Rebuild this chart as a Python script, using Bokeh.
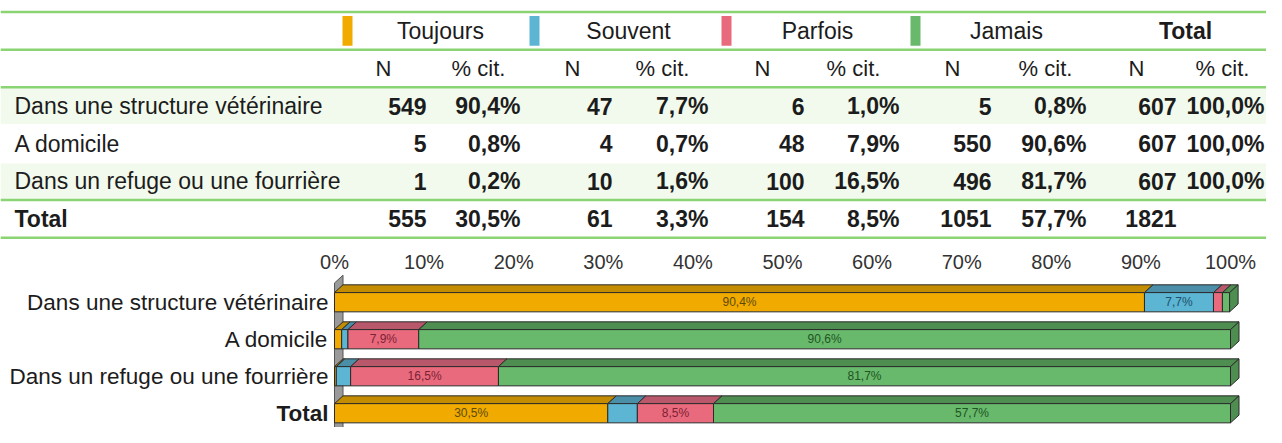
from bokeh.plotting import figure
from bokeh.layouts import column
from bokeh.models import Range1d, FixedTicker, LinearAxis
from bokeh.core.properties import value
from bokeh.embed import file_html
from bokeh.resources import INLINE

# ---------------- data ----------------
categories = ["Dans une structure vétérinaire", "A domicile",
              "Dans un refuge ou une fourrière", "Total"]
series = ["Toujours", "Souvent", "Parfois", "Jamais"]
n_toujours = [549, 5, 1, 555]
pct_toujours = [90.4, 0.8, 0.2, 30.5]
n_souvent = [47, 4, 10, 61]
pct_souvent = [7.7, 0.7, 1.6, 3.3]
n_parfois = [6, 48, 100, 154]
pct_parfois = [1.0, 7.9, 16.5, 8.5]
n_jamais = [5, 550, 496, 1051]
pct_jamais = [0.8, 90.6, 81.7, 57.7]
n_total = [607, 607, 607, 1821]
pct_total = [100.0, 100.0, 100.0, None]
tick_values = [0, 10, 20, 30, 40, 50, 60, 70, 80, 90, 100]
tick_labels = ["0%", "10%", "20%", "30%", "40%", "50%", "60%", "70%", "80%", "90%", "100%"]

# ---------------- style ----------------
FONT = "Liberation Sans"
TXT = "#1c1c1c"
LINE_GREEN = "#8ad474"
ROW_TINT = "#f1faec"
front_colors = ["#F0AA00", "#5BB5D3", "#EA6A7D", "#68B96C"]
top_colors = ["#C48C00", "#4A8EA8", "#B9586A", "#4E8E51"]
label_colors = ["#5e4a05", "#1f5068", "#7a2334", "#1f5523"]

def fr(v):
    return ("%.1f" % v).replace(".", ",") + "%"

W = 1266
REF_H = 443
TOTAL_H = 427
SY = TOTAL_H / REF_H

# ================= TABLE =================
T_REF = 250
TH = round(T_REF * SY)
t = figure(width=W, height=TH, x_range=Range1d(0, W), y_range=Range1d(T_REF, 0),
           output_backend="svg", toolbar_location=None, min_border=0,
           x_axis_location=None, y_axis_location=None, outline_line_color=None)
t.xgrid.visible = False
t.ygrid.visible = False

ROW0 = 12      # first rule
PITCH = 39     # row pitch
def row_c(k):
    return ROW0 + PITCH * (k + 0.5)

tint_rows = [2, 4]
t.quad(left=[0] * 2, right=[W] * 2,
       top=[ROW0 + PITCH * k + 1 for k in tint_rows],
       bottom=[ROW0 + PITCH * (k + 1) - 1 for k in tint_rows],
       fill_color=ROW_TINT, line_color=None)

rule_rows = [0, 1, 2, 5, 6]
t.segment(x0=[0] * 5, x1=[W] * 5, y0=[ROW0 + PITCH * k for k in rule_rows],
          y1=[ROW0 + PITCH * k for k in rule_rows], line_color=LINE_GREEN, line_width=2.5)

n_right = [426, 612, 804, 991, 1176]
p_right = [520, 708, 899, 1086, 1264]
n_head = [383, 572, 762, 952, 1136]
p_head = [478, 662, 853, 1045, 1222]
grp_c = [440, 628, 817, 1006, 1185]
sw_c = [347, 534, 726, 915]
group_names = series + ["Total"]

t.quad(left=[c - 5 for c in sw_c], right=[c + 5 for c in sw_c],
       top=[16] * 4, bottom=[47] * 4, fill_color=front_colors, line_color=None)

t.text(x=grp_c, y=[row_c(0)] * 5, text=group_names,
       text_font=value(FONT), text_font_size="23px", text_align="center",
       text_baseline="middle", text_color=TXT,
       text_font_style=["normal"] * 4 + ["bold"])
t.text(x=n_head, y=[row_c(1)] * 5, text=["N"] * 5, text_font=value(FONT),
       text_font_size="22px", text_align="center", text_baseline="middle", text_color=TXT)
t.text(x=p_head, y=[row_c(1)] * 5, text=["% cit."] * 5, text_font=value(FONT),
       text_font_size="22px", text_align="center", text_baseline="middle", text_color=TXT)

row_ks = [2, 3, 4, 5]
t.text(x=[14] * 4, y=[row_c(k) for k in row_ks], text=categories,
       text_font=value(FONT), text_font_size="23px", text_align="left",
       text_baseline="middle", text_color=TXT,
       text_font_style=["normal"] * 3 + ["bold"])

ns = [n_toujours, n_souvent, n_parfois, n_jamais, n_total]
ps = [pct_toujours, pct_souvent, pct_parfois, pct_jamais, pct_total]
for g in range(5):
    t.text(x=[n_right[g]] * 4, y=[row_c(k) for k in row_ks],
           text=[str(v) for v in ns[g]], text_font=value(FONT), text_font_size="23px",
           text_font_style="bold", text_align="right", text_baseline="middle", text_color=TXT)
    vals = [(row_c(k), fr(v)) for k, v in zip(row_ks, ps[g]) if v is not None]
    t.text(x=[p_right[g]] * len(vals), y=[a for a, b in vals], text=[b for a, b in vals],
           text_font=value(FONT), text_font_size="23px", text_font_style="bold",
           text_align="right", text_baseline="middle", text_color=TXT)

# ================= BAR CHART =================
BH = TOTAL_H - TH
PX = 8.96            # px per percent
ZERO = 334           # x of 0%
PY = 38.4            # ref px per row unit
LAST_C = 428.2       # ref y of bottom row centre
TOP_BORDER = 33
frame_top_ref = T_REF + TOP_BORDER / SY
X0 = (0 - ZERO) / PX
X1 = (W - ZERO) / PX
Y0 = (LAST_C - REF_H) / PY
Y1 = (LAST_C - frame_top_ref) / PY

b = figure(width=W, height=BH, x_range=Range1d(X0, X1), y_range=Range1d(Y0, Y1),
           output_backend="svg", toolbar_location=None, min_border=0, min_border_top=TOP_BORDER,
           x_axis_location=None, y_axis_location=None, outline_line_color=None)
b.xgrid.visible = False
b.ygrid.visible = False

ax = LinearAxis(ticker=FixedTicker(ticks=tick_values),
                major_label_overrides={v: l for v, l in zip(tick_values, tick_labels)})
ax.axis_line_color = None
ax.major_tick_line_color = None
ax.minor_tick_line_color = None
ax.major_tick_out = 0
ax.major_tick_in = 0
ax.major_label_standoff = 2
ax.major_label_text_font = FONT
ax.major_label_text_font_size = "20px"
ax.major_label_text_color = "#333333"
b.add_layout(ax, "above")

HALF = 0.26
DX = 0.95
DY = 0.21
nrows = len(categories)
yc = [nrows - 1 - i for i in range(nrows)]

wall_top = yc[0] + 0.52
b.patch(x=[0, 0, DX, DX], y=[Y0 - 1, wall_top, wall_top + DY, Y0 - 1 + DY],
        fill_color="#9a9a9a", line_color="#555555", line_width=1)

pcts = [pct_toujours, pct_souvent, pct_parfois, pct_jamais]
for i in range(nrows):
    start = 0.0
    for s in range(4):
        v = pcts[s][i]
        end = start + v
        top = yc[i] + HALF
        bot = yc[i] - HALF
        b.patch(x=[start, end, end + DX, start + DX], y=[top, top, top + DY, top + DY],
                fill_color=top_colors[s], line_color="#2a2a2a", line_width=1)
        b.quad(left=[start], right=[end], bottom=[bot], top=[top],
               fill_color=front_colors[s], line_color="#2a2a2a", line_width=1)
        if s == 3:
            b.patch(x=[end, end, end + DX, end + DX], y=[bot, top, top + DY, bot + DY],
                    fill_color=top_colors[s], line_color="#2a2a2a", line_width=1)
        if v >= 5:
            b.text(x=[(start + end) / 2], y=[yc[i]], text=[fr(v)],
                   text_font=value(FONT), text_font_size="12px", text_align="center",
                   text_baseline="middle", text_color=label_colors[s])
        start = end

b.text(x=[0] * nrows, y=yc, text=categories, x_offset=-6,
       text_font=value(FONT), text_font_size="22.5px", text_align="right",
       text_baseline="middle", text_color=TXT,
       text_font_style=["normal"] * 3 + ["bold"])

layout = column(t, b, spacing=0)
open("out.html", "w").write(file_html(layout, INLINE))
